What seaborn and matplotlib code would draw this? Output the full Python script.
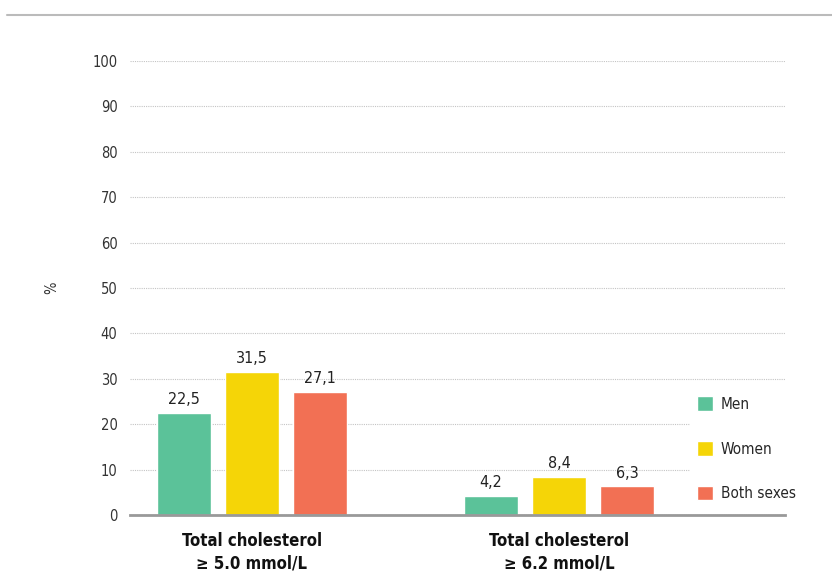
import matplotlib
matplotlib.use("Agg")
import matplotlib.pyplot as plt
import seaborn as sns
import pandas as pd
from matplotlib.lines import Line2D

categories = ["Total cholesterol\n≥ 5.0 mmol/L", "Total cholesterol\n≥ 6.2 mmol/L"]
groups = ["Men", "Women", "Both sexes"]
men = [22.5, 4.2]
women = [31.5, 8.4]
both = [27.1, 6.3]
colors = ["#5BC299", "#F5D507", "#F27054"]

rows = []
for g, vals in zip(groups, [men, women, both]):
    for c, v in zip(categories, vals):
        rows.append({"cat": c, "group": g, "value": v})
df = pd.DataFrame(rows)

sns.set_style("white")
plt.rcParams["font.family"] = ["DejaVu Sans"]
plt.rcParams["font.stretch"] = "condensed"

fig = plt.figure(figsize=(8.32, 5.81), dpi=100)
ax = fig.add_axes([130 / 832, 1 - 515 / 581, 655 / 832, 454 / 581])

sns.barplot(data=df, x="cat", y="value", hue="group", order=categories,
            hue_order=groups, palette=colors, width=0.665, gap=0.2,
            saturation=1, ax=ax, zorder=3)

# étiquettes de valeurs (virgule décimale)
for cont in ax.containers:
    labels = [f"{v:.1f}".replace(".", ",") for v in cont.datavalues]
    ax.bar_label(cont, labels=labels, padding=4, fontsize=11.5, color="#222222")

ax.set_ylim(0, 100)
ax.set_xlim(-0.397, 1.736)
ax.set_yticks(range(0, 101, 10))
ax.tick_params(axis="y", length=0, pad=9, labelsize=10.5, labelcolor="#333333")
ax.tick_params(axis="x", length=0, pad=12)
for lab in ax.get_xticklabels():
    lab.set_fontweight("bold")
    lab.set_fontsize(12)
    lab.set_linespacing(1.35)
    lab.set_color("#111111")
ax.yaxis.grid(True, linestyle=(0, (1, 1)), color="#c4c4c4", linewidth=0.8, zorder=0)
ax.set_axisbelow(True)
for s in ["top", "right", "left"]:
    ax.spines[s].set_visible(False)
ax.spines["bottom"].set_color("#999999")
ax.spines["bottom"].set_linewidth(2)
ax.spines["bottom"].set_zorder(10)
ax.set_xlabel("")
ax.set_ylabel("%", fontsize=10.5, labelpad=24, color="#333333")

leg = ax.legend(loc="upper left", bbox_to_anchor=(682 / 832, 1 - 381 / 581),
                bbox_transform=fig.transFigure, frameon=True,
                fontsize=11, handlelength=1.0, handleheight=1.12,
                labelspacing=1.9, borderpad=0.5, handletextpad=0.55)
leg.get_frame().set_facecolor("white")
leg.get_frame().set_edgecolor("white")
leg.get_frame().set_alpha(1)
leg.get_frame().set_boxstyle("square", pad=0)

fig.add_artist(Line2D([7 / 832, 1], [1 - 15 / 581, 1 - 15 / 581],
                      color="#bbbbbb", linewidth=1.5))

fig.savefig("out.png", dpi=100)
